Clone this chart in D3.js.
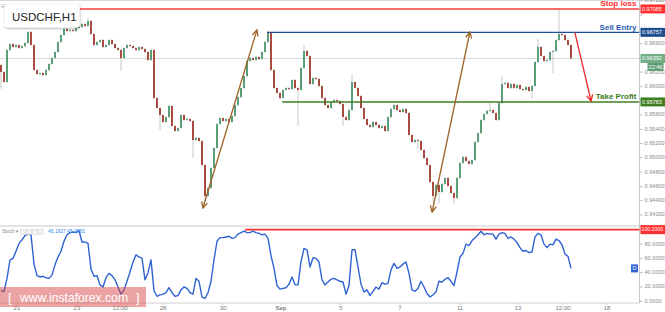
<!DOCTYPE html>
<html>
<head>
<meta charset="utf-8">
<script src="https://cdn.jsdelivr.net/npm/d3@7"></script>
<style>
  body { margin: 0; background: #fff; }
  svg { display: block; font-family: "Liberation Sans", Arial, sans-serif; }
</style>
</head>
<body>
<div id="chart"></div>
<script>
const firstOpen = 0.9630;
const closes = [
  0.96202, 0.96062, 0.96510, 0.96594, 0.96552, 0.96580, 0.96538, 0.96566, 0.96608, 0.96762,
  0.96580, 0.96230, 0.96174, 0.96188, 0.96160, 0.96230, 0.96314, 0.96398, 0.96482, 0.96622,
  0.96720, 0.96804, 0.96776, 0.96790, 0.96776, 0.96818, 0.96832, 0.96874, 0.96846, 0.96916,
  0.96734, 0.96580, 0.96622, 0.96650, 0.96552, 0.96580, 0.96650, 0.96594, 0.96538, 0.96510,
  0.96398, 0.96538, 0.96580, 0.96566, 0.96538, 0.96510, 0.96552, 0.96524, 0.96482, 0.96370,
  0.96510, 0.95838, 0.95698, 0.95600, 0.95502, 0.95572, 0.95726, 0.95446, 0.95376, 0.95418,
  0.95600, 0.95530, 0.95544, 0.95516, 0.95250, 0.95278, 0.95236, 0.94900, 0.94466, 0.94578,
  0.94858, 0.95138, 0.95474, 0.95558, 0.95516, 0.95544, 0.95502, 0.95586, 0.95740, 0.95852,
  0.95978, 0.96146, 0.96356, 0.96398, 0.96370, 0.96412, 0.96384, 0.96482, 0.96622, 0.96748,
  0.96230, 0.95978, 0.95908, 0.95838, 0.95950, 0.95978, 0.95964, 0.96090, 0.95978, 0.95950,
  0.96258, 0.96496, 0.96426, 0.96034, 0.96118, 0.96104, 0.96006, 0.95838, 0.95740, 0.95698,
  0.95782, 0.95810, 0.95796, 0.95754, 0.95572, 0.95530, 0.95670, 0.96062, 0.95978, 0.95866,
  0.95698, 0.95544, 0.95460, 0.95432, 0.95502, 0.95460, 0.95418, 0.95446, 0.95376, 0.95572,
  0.95684, 0.95740, 0.95670, 0.95642, 0.95684, 0.95628, 0.95320, 0.95222, 0.95250, 0.95236,
  0.95110, 0.94998, 0.94900, 0.94662, 0.94466, 0.94620, 0.94522, 0.94634, 0.94718, 0.94606,
  0.94508, 0.94438, 0.94718, 0.94928, 0.95012, 0.94956, 0.94914, 0.94970, 0.95222, 0.95348,
  0.95530, 0.95614, 0.95656, 0.95670, 0.95628, 0.95530, 0.95768, 0.96034, 0.96048, 0.95978,
  0.96034, 0.95978, 0.96020, 0.95964, 0.95950, 0.95992, 0.95936, 0.96006, 0.96342, 0.96552,
  0.96426, 0.96356, 0.96370, 0.96482, 0.96496, 0.96650, 0.96734, 0.96720, 0.96650, 0.96580,
  0.96392
];
// the visible long wicks, [candle index, price]
const highSpikes = [[29, 0.9694], [89, 0.9677], [101, 0.9656], [117, 0.9616], [163, 0.9577],
  [167, 0.9613], [179, 0.9665], [186, 0.9707]];
const lowSpikes = [[0, 0.9598], [40, 0.9623], [53, 0.9540], [64, 0.9501], [68, 0.9441],
  [99, 0.9546], [114, 0.9546], [139, 0.9514], [144, 0.9440], [146, 0.9437], [151, 0.9437],
  [177, 0.9585], [184, 0.9620]];

const stoch = [
  15, 14, 32, 58, 60, 70, 81, 86, 92, 94,
  93, 52, 36, 34, 35, 33, 32, 37, 51, 62,
  70, 84, 93, 96, 97, 96, 99, 83, 83, 81,
  45, 35, 36, 23, 20, 33, 39, 36, 30, 20,
  10, 16, 28, 41, 55, 65, 62, 60, 30, 40,
  58, 15, 7, 9, 10, 12, 19, 12, 7, 8,
  16, 20, 18, 12, 10, 32, 28, 6, 4, 12,
  28, 58, 84, 89, 89, 90, 91, 88, 89, 94,
  96, 98, 96, 96, 98, 96, 95, 93, 94, 88,
  64, 46, 22, 17, 18, 19, 24, 34, 23, 23,
  55, 74, 72, 48, 61, 60, 55, 30, 23, 27,
  31, 32, 30, 28, 27, 10, 22, 72, 72, 48,
  24, 13, 16, 8, 14, 20, 17, 26, 24, 25,
  44, 53, 46, 48, 52, 55, 39, 16, 14, 18,
  28, 20, 11, 6, 9, 13, 28, 27, 31, 33,
  28, 22, 41, 62, 67, 80, 78, 85, 89, 93,
  98, 93, 95, 94, 94, 87, 94, 96, 95, 88,
  90, 87, 82, 75, 70, 71, 68, 69, 90, 95,
  93, 80, 75, 80, 79, 87, 85, 79, 66, 63,
  46
];

const priceTicks = [0.972, 0.970, 0.968, 0.966, 0.964, 0.962, 0.960, 0.958, 0.956, 0.954,
  0.952, 0.950, 0.948, 0.946, 0.944, 0.942];
const stochTicks = [0, 20, 40, 60, 80];
const timeTickIdx = [5.3, 25.3, 39.7, 54, 74, 93.3, 113.3, 133, 153, 172.3, 187.3, 202];
const timeTickLabels = ["21", "23", "12:00", "28", "30", "Sep", "5", "7", "11", "13", "12:00", "18"];

// trade levels: [name, price, first candle index]
const levels = [
  ["Stop loss", 0.97085, 26.3],
  ["Sell Entry", 0.96757, 88.7],
  ["Take Profit", 0.95783, 93.7]
];
const lastPrice = 0.96392;
const timer = "22:46";
const stochTop = 100.2;
const stochTopFrom = 81.3;
const stochHeader = ["45.1827", "45.9982"];
// arrows: [x0 idx, price0, x1 idx, price1]
const arrows = [
  [67.3, 0.94298, 85.3, 0.9679],
  [143.7, 0.94242, 156.3, 0.96762],
  [191.3, 0.96752, 196.7, 0.95796]
];

const W = 665, H = 312;
const right = 639.5;
const mainBottom = 226, stochBottom = 303;
const upColor = "#5a9f78", downColor = "#aa4b40", wickColor = "#c8c8c8";
const levelColors = ["#ff3b3b", "#1f4f9a", "#3f7f22"];
const labelColors = ["#ff2a2a", "#2a5db0", "#3a7a1a"];
const boxColors = ["#ff3030", "#1f4f8f", "#3f7f22"];

const svg = d3.select("#chart").append("svg")
  .attr("width", W).attr("height", H);
svg.append("rect").attr("width", W).attr("height", H).attr("fill", "#fff");

const x = d3.scaleLinear().domain([0, 190]).range([1, 571]);
const y = d3.scaleLinear().domain([0.942, 0.970]).range([215, 15]);
const ys = d3.scaleLinear().domain([0, 100]).range([301.3, 229.8]);

const defs = svg.append("defs");
defs.append("clipPath").attr("id", "mainClip").append("rect")
  .attr("x", 0).attr("y", 0).attr("width", right).attr("height", mainBottom);
const sh = defs.append("filter").attr("id", "shadow")
  .attr("x", "-20%").attr("y", "-30%").attr("width", "140%").attr("height", "170%");
sh.append("feDropShadow").attr("dx", 0.5).attr("dy", 1).attr("stdDeviation", 1.2)
  .attr("flood-color", "#000").attr("flood-opacity", 0.35);
["brown", "red"].forEach((n, k) => {
  defs.append("marker").attr("id", "head-" + n)
    .attr("viewBox", "0 0 8 8").attr("refX", 7).attr("refY", 4)
    .attr("markerWidth", 8).attr("markerHeight", 8).attr("markerUnits", "userSpaceOnUse")
    .attr("orient", "auto-start-reverse")
    .append("path").attr("d", "M1,1 L7,4 L1,7")
    .attr("fill", "none").attr("stroke", k ? "#ee2a2a" : "#a0642a").attr("stroke-width", 1.3);
});

// panel frames
svg.append("line").attr("x1", 0).attr("x2", W).attr("y1", 0.5).attr("y2", 0.5).attr("stroke", "#d8d8d8");
svg.append("line").attr("x1", 0).attr("x2", W).attr("y1", mainBottom).attr("y2", mainBottom).attr("stroke", "#c8c8c8");
svg.append("line").attr("x1", 0).attr("x2", right).attr("y1", stochBottom).attr("y2", stochBottom).attr("stroke", "#d0d0d0");
svg.append("line").attr("x1", right).attr("x2", right).attr("y1", 0).attr("y2", stochBottom).attr("stroke", "#c8c8c8");

const main = svg.append("g").attr("clip-path", "url(#mainClip)");

// last price line
main.append("line").attr("x1", 0).attr("x2", right)
  .attr("y1", y(lastPrice)).attr("y2", y(lastPrice))
  .attr("stroke", "#cfdcd6").attr("stroke-width", 1);

// candles
const candles = closes.map((c, i) => {
  const o = i === 0 ? firstOpen : closes[i - 1];
  return { i, o, c, h: Math.max(o, c), l: Math.min(o, c) };
});
highSpikes.forEach(([i, v]) => { candles[i].h = Math.max(candles[i].h, v); });
lowSpikes.forEach(([i, v]) => { candles[i].l = Math.min(candles[i].l, v); });

main.append("g").selectAll("line").data(candles).join("line")
  .attr("x1", d => x(d.i)).attr("x2", d => x(d.i))
  .attr("y1", d => y(d.h) - 1).attr("y2", d => y(d.l) + 1)
  .attr("stroke", wickColor).attr("stroke-width", 1);

main.append("g").selectAll("rect").data(candles).join("rect")
  .attr("x", d => x(d.i) - 1)
  .attr("width", 2)
  .attr("y", d => y(Math.max(d.o, d.c)))
  .attr("height", d => Math.max(1, Math.abs(y(d.o) - y(d.c))))
  .attr("fill", d => d.c >= d.o ? upColor : downColor);

// trade levels
levels.forEach(([name, p, from], k) => {
  main.append("line").attr("x1", x(from)).attr("x2", right)
    .attr("y1", y(p)).attr("y2", y(p))
    .attr("stroke", levelColors[k]).attr("stroke-width", k === 1 ? 1.3 : 1.6);
  main.append("text").attr("x", right - 3).attr("y", y(p) - 2.5)
    .attr("text-anchor", "end").attr("font-size", 8).attr("font-weight", "bold")
    .attr("fill", labelColors[k]).text(name);
});

// arrows
arrows.forEach(([i0, p0, i1, p1], k) => {
  const red = k === 2;
  main.append("line")
    .attr("x1", x(i0)).attr("y1", y(p0)).attr("x2", x(i1)).attr("y2", y(p1))
    .attr("stroke", red ? "#ee2a2a" : "#a0642a").attr("stroke-width", 1.3)
    .attr("marker-end", red ? "url(#head-red)" : "url(#head-brown)")
    .attr("marker-start", red ? null : "url(#head-brown)");
});

// price axis (tick labels under a price box are hidden, as on the terminal)
const boxed = levels.map(d => d[1]).concat([lastPrice]);
const pAxis = svg.append("g");
priceTicks.forEach(t => {
  pAxis.append("line").attr("x1", right).attr("x2", right + 3)
    .attr("y1", y(t)).attr("y2", y(t)).attr("stroke", "#bbb");
  if (boxed.some(b => Math.abs(y(b) - y(t)) < 7)) return;
  pAxis.append("text").attr("x", right + 5).attr("y", y(t))
    .attr("dominant-baseline", "middle").attr("font-size", 5.6).attr("fill", "#8c8c8c")
    .text(d3.format(".5f")(t));
});

function axisBox(yy, bg, label) {
  pAxis.append("rect").attr("x", right + 1).attr("y", yy - 4.5)
    .attr("width", W - right - 1).attr("height", 9).attr("fill", bg);
  pAxis.append("text").attr("x", right + 2.5).attr("y", yy + 0.3)
    .attr("dominant-baseline", "middle").attr("font-size", 5.5).attr("fill", "#fff")
    .text(label);
}
levels.forEach(([, p], k) => axisBox(y(p), boxColors[k], d3.format(".5f")(p)));
axisBox(y(lastPrice), "#72ad86", d3.format(".5f")(lastPrice));
pAxis.append("rect").attr("x", right + 8).attr("y", y(lastPrice) + 4.5)
  .attr("width", 16).attr("height", 8).attr("fill", "#5f9c72");
pAxis.append("text").attr("x", right + 16).attr("y", y(lastPrice) + 8.7)
  .attr("text-anchor", "middle").attr("dominant-baseline", "middle")
  .attr("font-size", 5.5).attr("fill", "#fff").text(timer);

// symbol box
svg.append("text").attr("x", 1).attr("y", 8).attr("font-size", 6).attr("fill", "#999").text("⊟");
svg.append("rect").attr("x", 4.5).attr("y", 4.5).attr("width", 75).attr("height", 23).attr("rx", 3)
  .attr("fill", "#fff").attr("filter", "url(#shadow)");
svg.append("text").attr("x", 12).attr("y", 21).attr("font-size", 11.5).attr("fill", "#222")
  .text("USDCHF,H1");

// stochastic panel
const st = svg.append("g");
st.append("line").attr("x1", x(stochTopFrom)).attr("x2", right)
  .attr("y1", ys(stochTop)).attr("y2", ys(stochTop))
  .attr("stroke", "#ff3030").attr("stroke-width", 1.6);
st.append("path").datum(stoch)
  .attr("d", d3.line().x((d, i) => x(i)).y(d => ys(d)))
  .attr("fill", "none").attr("stroke", "#2f63d2").attr("stroke-width", 1.4)
  .attr("stroke-linejoin", "round");

stochTicks.forEach(t => {
  st.append("line").attr("x1", right).attr("x2", right + 3)
    .attr("y1", ys(t)).attr("y2", ys(t)).attr("stroke", "#bbb");
  st.append("text").attr("x", right + 5).attr("y", ys(t))
    .attr("dominant-baseline", "middle").attr("font-size", 5.6).attr("fill", "#8c8c8c")
    .text(d3.format(".4f")(t));
});
st.append("rect").attr("x", right + 1).attr("y", ys(stochTop) - 4.5)
  .attr("width", W - right - 1).attr("height", 9).attr("fill", "#ff3030");
st.append("text").attr("x", right + 2).attr("y", ys(stochTop) + 0.3)
  .attr("dominant-baseline", "middle").attr("font-size", 5.2).attr("fill", "#fff")
  .text(d3.format(".4f")(stochTop));
st.append("rect").attr("x", 631).attr("y", ys(stoch[stoch.length - 1]) - 4)
  .attr("width", 7).attr("height", 8).attr("fill", "#2f63d2");
st.append("text").attr("x", 634.5).attr("y", ys(stoch[stoch.length - 1]) + 0.3)
  .attr("text-anchor", "middle").attr("dominant-baseline", "middle")
  .attr("font-size", 5.5).attr("fill", "#fff").text("D");

st.append("text").attr("x", 2).attr("y", 233).attr("font-size", 5).attr("fill", "#888").text("Stoch ▾");
[0, 1, 2, 3].forEach(k => {
  st.append("rect").attr("x", 20.5 + k * 6).attr("y", 229.5).attr("width", 5).attr("height", 5)
    .attr("fill", "#f2f2f2").attr("stroke", "#d4d4d4").attr("stroke-width", 0.5);
});
stochHeader.forEach((s, k) => {
  st.append("text").attr("x", 48 + k * 19).attr("y", 233).attr("font-size", 5)
    .attr("fill", "#3c8ee8").text(s);
});

// time axis
const tAxis = svg.append("g");
timeTickIdx.forEach((t, k) => {
  tAxis.append("line").attr("x1", x(t)).attr("x2", x(t))
    .attr("y1", stochBottom).attr("y2", stochBottom + 2).attr("stroke", "#ccc");
  tAxis.append("text").attr("x", x(t)).attr("y", 310)
    .attr("text-anchor", "middle").attr("font-size", 6)
    .attr("font-weight", timeTickLabels[k] === "Sep" ? "bold" : "normal")
    .attr("fill", "#7a7a7a").text(timeTickLabels[k]);
});

// watermark
svg.append("rect").attr("x", 0).attr("y", 287).attr("width", 146).attr("height", 20)
  .attr("fill", "#d84848").attr("opacity", 0.5);
svg.append("text").attr("x", 8).attr("y", 302).attr("font-size", 13).attr("fill", "#fff").text("[");
svg.append("text").attr("x", 136).attr("y", 302).attr("font-size", 13).attr("fill", "#fff").text("]");
svg.append("text").attr("x", 20).attr("y", 302).attr("font-size", 13).attr("fill", "#fff")
  .attr("textLength", 108).attr("lengthAdjust", "spacingAndGlyphs").text("www.instaforex.com");
</script>
</body>
</html>
